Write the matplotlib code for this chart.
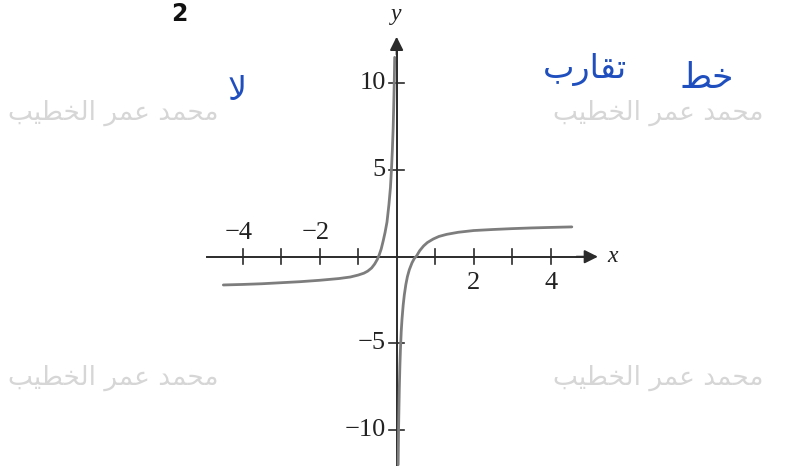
import matplotlib.pyplot as plt
import numpy as np

# curve samples, left branch (x < 0) and right branch (x > 0)
left_x = [-4.5, -4.0, -3.5, -3.0, -2.5, -2.0, -1.5, -1.2, -1.0, -0.85, -0.75, -0.65,
          -0.57, -0.5, -0.45, -0.4, -0.35, -0.3, -0.25, -0.2, -0.16, -0.13, -0.11,
          -0.09, -0.075, -0.06, -0.05]
left_y = [-1.63, -1.6, -1.56, -1.5, -1.44, -1.36, -1.26, -1.17, -1.06, -0.95, -0.83,
          -0.65, -0.42, -0.15, 0.12, 0.45, 0.9, 1.4, 2.0, 3.0, 4.0, 5.2, 6.2, 7.4,
          8.7, 10.2, 11.5]

right_x = [0.04, 0.05, 0.06, 0.07, 0.085, 0.1, 0.12, 0.14, 0.17, 0.2, 0.24, 0.28,
           0.33, 0.4, 0.46, 0.52, 0.6, 0.7, 0.8, 0.95, 1.1, 1.3, 1.6, 2.0, 2.5, 3.0,
           3.5, 4.0, 4.55]
right_y = [-12.0, -10.0, -8.8, -7.6, -6.3, -5.3, -4.3, -3.6, -2.8, -2.2, -1.6, -1.15,
           -0.75, -0.35, -0.1, 0.05, 0.35, 0.62, 0.82, 1.02, 1.17, 1.29, 1.41, 1.51,
           1.57, 1.62, 1.66, 1.69, 1.72]

x_ticks = [-4, -3, -2, -1, 1, 2, 3, 4]
x_labels = {-4: '\u22124', -2: '\u22122', 2: '2', 4: '4'}
y_ticks = [10, 5, -5, -10]
y_labels = ['10', '5', '\u22125', '\u221210']

# "محمد عمر الخطيب" in presentation forms, visual order
watermark = '\ufe90\ufef4\ufec4\ufea8\ufedf\ufe8d \ufeae\ufee4\ufecb \ufeaa\ufee4\ufea4\ufee3'
note_no = '\ufefb'                                   # لا
note_asym = ['\ufe8f\ufead\ufe8e\ufed8\ufe97', '\ufec2\ufea7']   # تقارب , خط

fig = plt.figure(figsize=(7.89, 4.72), dpi=100)
ax = fig.add_axes([0, 0, 1, 1])
ax.set_xlim(-10.30, 10.19)
ax.set_ylim(-12.42, 14.81)
ax.axis('off')

axis_col = '#2b2b2b'
serif = 'Liberation Serif'

# axes with arrow heads
ax.plot([-4.92, 4.9], [0, 0], color=axis_col, lw=1.4)
ax.annotate('', xy=(5.3, 0), xytext=(4.6, 0),
            arrowprops=dict(arrowstyle='-|>', mutation_scale=20, lw=1.4, color=axis_col))
ax.plot([0, 0], [-12.0, 12.2], color=axis_col, lw=1.4)
ax.annotate('', xy=(0, 12.85), xytext=(0, 11.5),
            arrowprops=dict(arrowstyle='-|>', mutation_scale=20, lw=1.4, color=axis_col))

for t in x_ticks:
    ax.plot([t, t], [-0.42, 0.42], color=axis_col, lw=1.2)
for t in y_ticks:
    ax.plot([-0.2, 0.2], [t, t], color=axis_col, lw=1.2)

for t, lab in x_labels.items():
    yy = 1.35 if t < 0 else -1.5
    ax.text(t - (0.1 if t < 0 else 0), yy, lab, ha='center', va='center', fontsize=19,
            family=serif, color='#222')
for t, lab in zip(y_ticks, y_labels):
    ax.text(-0.28, t, lab, ha='right', va='center', fontsize=19, family=serif, color='#222')

ax.text(0.0, 14.0, 'y', ha='center', va='center', fontsize=17, family=serif,
        style='italic', color='#222')
ax.text(5.6, 0.0, 'x', ha='center', va='center', fontsize=17, family=serif,
        style='italic', color='#222')

# the function
ax.plot(left_x, left_y, color='#7d7d7d', lw=2.0, solid_capstyle='round')
ax.plot(right_x, right_y, color='#7d7d7d', lw=2.0, solid_capstyle='round')

# exercise number
ax.text(-5.65, 14.0, '2', ha='center', va='center', fontsize=17, fontweight='bold',
        family='DejaVu Sans', color='#111')

# faint watermarks
for wx, wy in [(-7.35, 8.3), (6.8, 8.3), (-7.35, -7.0), (6.8, -7.0)]:
    ax.text(wx, wy, watermark, ha='center', va='center', fontsize=19,
            family='DejaVu Sans', color='#d6d6d6')

# blue handwritten notes
blue = '#1f4fbf'
ax.text(-4.15, 9.6, note_no, ha='center', va='center', fontsize=24,
        family='DejaVu Sans', color=blue)
ax.text(4.9, 10.8, note_asym[0], ha='center', va='center', fontsize=24,
        family='DejaVu Sans', color=blue)
ax.text(8.05, 10.3, note_asym[1], ha='center', va='center', fontsize=25,
        family='DejaVu Sans', color=blue)

fig.savefig('out.png', dpi=100)
